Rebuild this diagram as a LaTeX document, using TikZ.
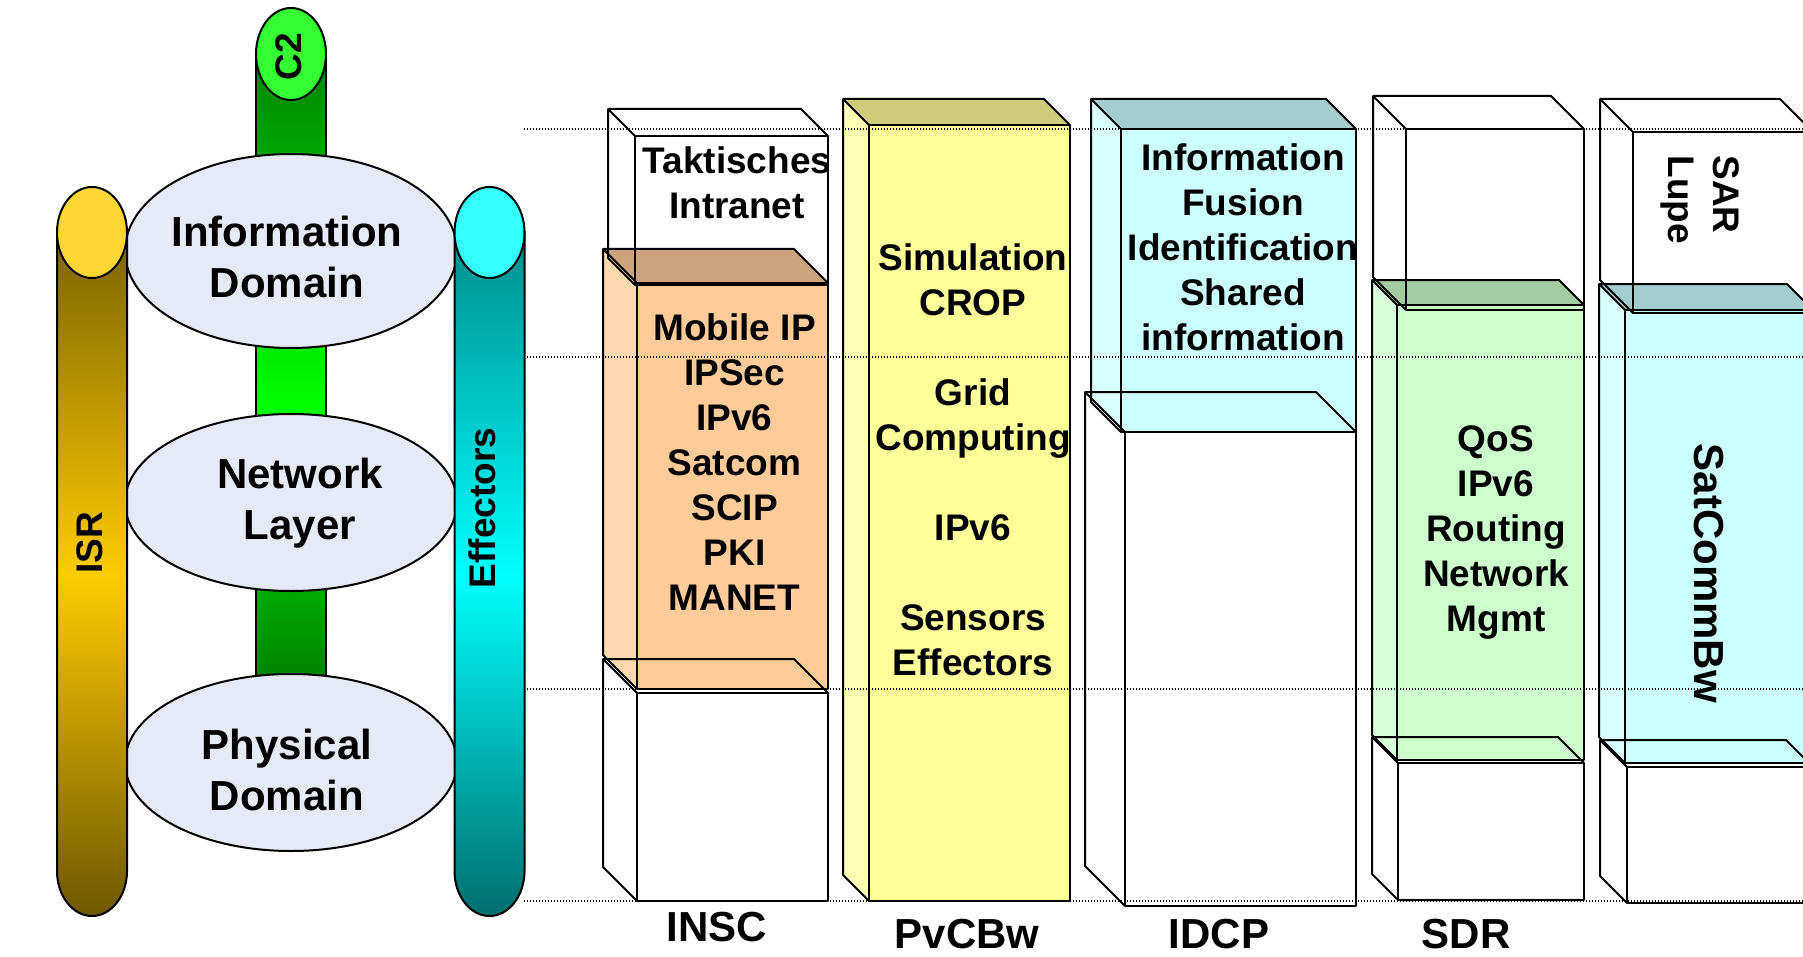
\documentclass[tikz,border=0pt]{standalone}
\usepackage{fontspec}
\setmainfont{Liberation Sans}
\definecolor{ellfill}{RGB}{230,234,246}
\definecolor{isrcap}{RGB}{255,214,51}
\definecolor{isrtop}{RGB}{122,98,0}
\definecolor{isrmid}{RGB}{255,204,0}
\definecolor{isrbot}{RGB}{110,87,0}
\definecolor{effcap}{RGB}{51,255,255}
\definecolor{efftop}{RGB}{0,140,140}
\definecolor{effmid}{RGB}{0,255,255}
\definecolor{effbot}{RGB}{0,110,110}
\definecolor{ctwocap}{RGB}{51,255,51}
\definecolor{ctwotop}{RGB}{0,130,0}
\definecolor{ctwomid}{RGB}{0,255,0}
\definecolor{ctwobot}{RGB}{0,93,0}
\definecolor{orfront}{RGB}{255,204,153}
\definecolor{orside}{RGB}{255,216,176}
\definecolor{ortop}{RGB}{204,163,122}
\definecolor{yefront}{RGB}{255,255,153}
\definecolor{yeside}{RGB}{255,255,179}
\definecolor{yetop}{RGB}{204,204,122}
\definecolor{cyfront}{RGB}{204,255,255}
\definecolor{cyside}{RGB}{217,255,255}
\definecolor{cytop}{RGB}{163,204,204}
\definecolor{grfront}{RGB}{204,255,204}
\definecolor{grside}{RGB}{217,255,217}
\definecolor{grtop}{RGB}{163,204,163}
\tikzset{
  edge/.style={draw=black, line width=1pt, line join=round},
  guide/.style={draw=black, line width=0.6pt, dash pattern=on 0.6pt off 0.9pt},
  lbl/.style={font=\bfseries\fontsize{18.5}{22.5}\selectfont, align=center, inner sep=0pt},
  big/.style={font=\bfseries\fontsize{21}{25.5}\selectfont, align=center, inner sep=0pt},
  domainell/.style={fill=ellfill, draw=black, line width=1pt},
}
% #1 x front-left, #2 y front-top, #3 x front-right, #4 y front-bottom, #5 depth
\newcommand\oboxfill[8]{%
  \fill[#6] (#1,#2) rectangle (#3,#4);
  \fill[#7] (#1,#2) -- ({#1-#5},{#2-#5}) -- ({#1-#5},{#4-#5}) -- (#1,#4) -- cycle;
  \fill[#8] (#1,#2) -- ({#1-#5},{#2-#5}) -- ({#3-#5},{#2-#5}) -- (#3,#2) -- cycle;
}
\newcommand\oboxline[5]{%
  \draw[edge] (#1,#2) rectangle (#3,#4);
  \draw[edge] (#1,#4) -- ({#1-#5},{#4-#5}) -- ({#1-#5},{#2-#5}) -- ({#3-#5},{#2-#5}) -- (#3,#2);
  \draw[edge] (#1,#2) -- ({#1-#5},{#2-#5});
}
\begin{document}
\begin{tikzpicture}[x=0.5pt,y=-0.5pt]
\clip (0,0) rectangle (1803,957);
\fill[white] (0,0) rectangle (1803,957);

% ---------- left: pillars and domains ----------
\shade[top color=ctwotop, bottom color=ctwobot, middle color=ctwomid, draw=black, line width=1pt]
  (256,54) -- (256,760) -- (326,760) -- (326,54) -- cycle;
\filldraw[fill=ctwocap, draw=black, line width=1pt] (291,54) ellipse [x radius=35, y radius=46];

\path[domainell] (291,251) ellipse [x radius=166, y radius=97];
\path[domainell] (291,502.5) ellipse [x radius=166, y radius=88.5];
\path[domainell] (291,762.5) ellipse [x radius=166, y radius=88.5];

\shade[top color=isrtop, bottom color=isrbot, middle color=isrmid, draw=black, line width=1pt]
  (57,232) -- (57,871) arc[start angle=180, end angle=0, x radius=35, y radius=45] -- (127,232) -- cycle;
\filldraw[fill=isrcap, draw=black, line width=1pt] (92,232.5) ellipse [x radius=35, y radius=45.5];

\shade[top color=efftop, bottom color=effbot, middle color=effmid, draw=black, line width=1pt]
  (454.5,232) -- (454.5,871) arc[start angle=180, end angle=0, x radius=35, y radius=45] -- (524.5,232) -- cycle;
\filldraw[fill=effcap, draw=black, line width=1pt] (489.5,232.5) ellipse [x radius=35, y radius=45.5];

\node[lbl, rotate=90] (c2) at (289,57) {C2};
\node[lbl, rotate=90] (isr) at (89.5,543) {ISR};
\node[lbl, rotate=90] (eff) at (482,508) {Effectors};
\node[big, anchor=north] (infodom) at (287,216) {Information\\Domain};
\node[big, anchor=north] (netlay) at (300,458) {Network\\Layer};
\node[big, anchor=north] (physdom) at (287,729) {Physical\\Domain};

% ---------- right: columns ----------
\oboxfill{637}{283}{828}{689}{34}{orfront}{orside}{ortop}
\oboxfill{869}{125}{1070}{901}{26}{yefront}{yeside}{yetop}
\oboxfill{1121}{129}{1356}{432}{30}{cyfront}{cyside}{cytop}
\oboxfill{1397}{305}{1584}{760}{25}{grfront}{grside}{grtop}
\oboxfill{1625}{310}{1813}{763}{26}{cyfront}{cyside}{cytop}

\oboxline{635}{136}{828}{285}{27}
\oboxline{637}{283}{828}{689}{34}
\oboxline{637}{693}{828}{901}{34}
\oboxline{869}{125}{1070}{901}{26}
\oboxline{1121}{129}{1356}{432}{30}
\oboxline{1125}{432}{1356}{906}{40}
\oboxline{1406}{129}{1584}{310}{33}
\oboxline{1397}{305}{1584}{760}{25}
\oboxline{1398}{763}{1584}{900}{26}
\oboxline{1633}{132}{1813}{313}{33}
\oboxline{1625}{310}{1813}{763}{26}
\oboxline{1627}{767}{1813}{903}{27}

\foreach \yy in {129,357,689,901} \draw[guide] (524,\yy) -- (1803,\yy);

\node[lbl, anchor=north] (takt) at (737,146) {Taktisches\\Intranet};
\node[lbl, anchor=north] (insctxt) at (734.5,313) {Mobile IP\\IPSec\\IPv6\\Satcom\\SCIP\\PKI\\MANET};
\node[lbl, anchor=north] (pvtxt) at (973,243) {Simulation\\CROP\\[22.5pt]Grid\\Computing\\[22.5pt]IPv6\\[22.5pt]Sensors\\Effectors};
\node[lbl, anchor=north] (idtxt) at (1243,143) {Information\\Fusion\\Identification\\Shared\\information};
\node[lbl, anchor=north] (sdrtxt) at (1496,425) {QoS\\IPv6\\Routing\\Network\\Mgmt};
\node[lbl, rotate=-90, anchor=west, align=left] (sar) at (1700,155) {SAR\\Lupe};
\node[big, rotate=-90] (satc) at (1709,573.5) {SatCommBw};

\node[big, anchor=base] (insc) at (717,941) {INSC};
\node[big, anchor=base] (pvcbw) at (967,948) {PvCBw};
\node[big, anchor=base] (idcp) at (1219,948) {IDCP};
\node[big, anchor=base] (sdr) at (1466,948) {SDR};
\end{tikzpicture}
\end{document}
